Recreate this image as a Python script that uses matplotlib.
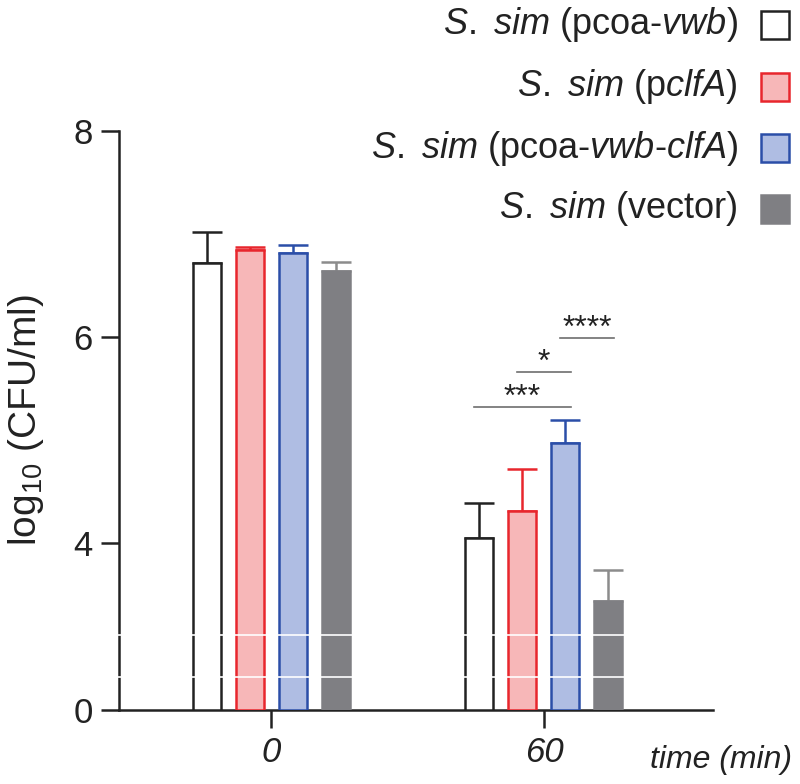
import numpy as np
import matplotlib
matplotlib.use("Agg")
import matplotlib.pyplot as plt
from matplotlib.patches import Rectangle

plt.rcParams["font.family"] = ["Liberation Sans", "DejaVu Sans"]
plt.rcParams["mathtext.fontset"] = "custom"
plt.rcParams["mathtext.rm"] = "Liberation Sans"
plt.rcParams["mathtext.it"] = "Liberation Sans:italic"

# data: log10 CFU/ml, mean and upper SD, at 0 and 60 min
times = ["0", "60"]
strains = ["pcoa-vwb", "pclfA", "pcoa-vwb-clfA", "vector"]
labels = [r"$\mathit{S.}$ $\mathit{sim}$ (pcoa-$\mathit{vwb}$)",
          r"$\mathit{S.}$ $\mathit{sim}$ (p$\mathit{clfA}$)",
          r"$\mathit{S.}$ $\mathit{sim}$ (pcoa-$\mathit{vwb}$-$\mathit{clfA}$)",
          r"$\mathit{S.}$ $\mathit{sim}$ (vector)"]
means = {"pcoa-vwb":      [6.72, 4.05],
         "pclfA":         [6.84, 4.31],
         "pcoa-vwb-clfA": [6.82, 4.97],
         "vector":        [6.64, 3.44]}
errs = {"pcoa-vwb":      [0.30, 0.34],
        "pclfA":         [0.03, 0.41],
        "pcoa-vwb-clfA": [0.07, 0.22],
        "vector":        [0.09, 0.30]}
# significance at 60 min: (from strain, to strain, label, bar height)
sig = [("pcoa-vwb", "pcoa-vwb-clfA", "***", 5.32),
       ("pclfA", "pcoa-vwb-clfA", "*", 5.66),
       ("pcoa-vwb-clfA", "vector", "****", 5.99)]

faces = ["white", "#f7b7b8", "#afbde3", "#7f7f83"]
edges = ["#222222", "#e8262d", "#2b4ea8", "#7f7f83"]
ecols = ["#222222", "#e8262d", "#2b4ea8", "#8c8c8c"]

# discontinuous y axis: 0-3 squashed, linear above 3
BRK, K = 3.0, 0.207


def fwd(v):
    v = np.asarray(v, dtype=float)
    return np.where(v < BRK, v * K, BRK * K + (v - BRK))


def inv(f):
    f = np.asarray(f, dtype=float)
    return np.where(f < BRK * K, f / K, f - BRK * K + BRK)


fig = plt.figure(figsize=(8, 7.84), dpi=100)
ax = fig.add_axes([0.149, 0.0944, 0.742, 0.7385])
ax.set_yscale("function", functions=(fwd, inv))

xg = np.arange(len(times))
step = 0.1575
width = 0.1026
offs = (np.arange(len(strains)) - 1.5) * step

for i, s in enumerate(strains):
    x = xg + offs[i]
    ax.bar(x, means[s], width, color=faces[i], edgecolor=edges[i],
           linewidth=1.8, zorder=3)
    ax.errorbar(x, means[s], yerr=[np.zeros(len(times)), errs[s]],
                fmt="none", ecolor=ecols[i], elinewidth=1.8, capsize=10.5,
                capthick=1.8, zorder=2)

# white break lines across the plot
for f in (0.728, 0.320):
    ax.axhline(float(inv(f)), color="white", lw=1.2, zorder=5, clip_on=False,
               xmin=-0.2, xmax=1.0)

# significance bars (60 min group)
for a, b, txt, yl in sig:
    x0 = xg[1] + offs[strains.index(a)] - 0.02
    x1 = xg[1] + offs[strains.index(b)] + 0.02
    ax.plot([x0, x1], [yl, yl], color="#6e6e6e", lw=1.2, zorder=4)
    ax.annotate(txt, ((x0 + x1) / 2, yl), xytext=(0, 1),
                textcoords="offset points", ha="center", va="baseline",
                fontsize=23, color="#222222")

ax.set_xlim(-0.557, 1.619)
ax.set_ylim(0, 8)
ax.set_yticks([0, 4, 6, 8])
ax.set_yticklabels(["0", "4", "6", "8"])
ax.set_xticks(xg)
ax.set_xticklabels(times, fontstyle="italic")
ax.tick_params(axis="both", length=13, width=1.8, labelsize=25,
               color="#222222", labelcolor="#222222")
ax.tick_params(axis="y", pad=6)
ax.tick_params(axis="x", pad=6)
ax.minorticks_off()
for sp in ("top", "right"):
    ax.spines[sp].set_visible(False)
for sp in ("left", "bottom"):
    ax.spines[sp].set_linewidth(1.8)
    ax.spines[sp].set_color("#222222")

ax.set_ylabel(r"log$_{10}$ (CFU/ml)", fontsize=28, color="#222222")
ax.yaxis.set_label_coords(-0.157, 0.5)
ax.yaxis.label.set_va("center")
fig.text(0.99, 0.030, "time (min)", ha="right", va="center", fontsize=23,
         fontstyle="italic", color="#222222")

# legend on the right, text right-aligned
ys = [25, 87, 148, 209]
for i, lab in enumerate(labels):
    yc = 1 - ys[i] / 784
    fig.text(738 / 800, yc, lab, ha="right", va="center", fontsize=26,
             color="#222222")
    fig.add_artist(Rectangle((761 / 800, yc - 14 / 784), 28 / 800, 28 / 784,
                             transform=fig.transFigure, facecolor=faces[i],
                             edgecolor=edges[i], linewidth=1.8))

fig.savefig("out.png", dpi=100)
